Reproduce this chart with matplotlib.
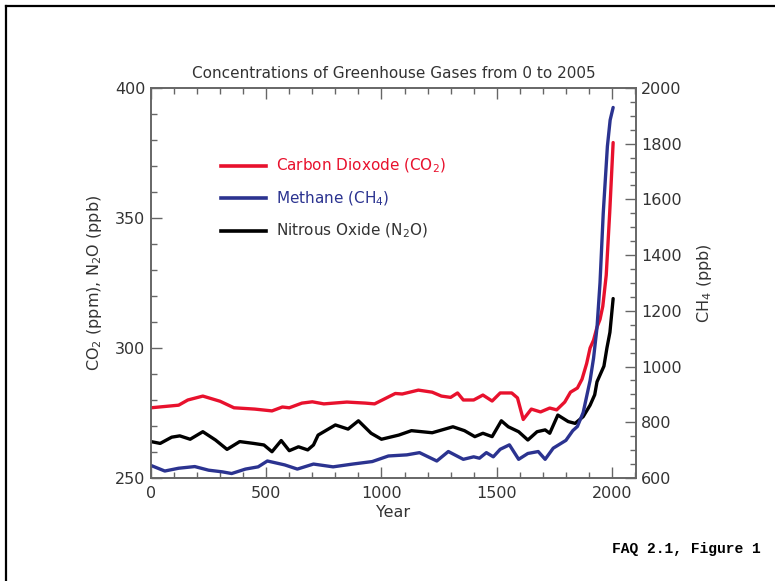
"""
Concentrations of greenhouse gases from 0 to 2005 (FAQ 2.1, Figure 1).
CO2 and N2O on the left axis, CH4 on the right axis.
"""

import matplotlib
matplotlib.use("Agg")
import matplotlib.pyplot as plt
from matplotlib.lines import Line2D
from matplotlib.ticker import MultipleLocator

# === Data ===
co2_years = [0, 60, 120, 160, 225, 300, 360, 450, 525, 570, 600, 655, 700, 750,
             850, 930, 970, 1060, 1090, 1160, 1220, 1260, 1300, 1330, 1355, 1400,
             1440, 1480, 1515, 1565, 1590, 1615, 1650, 1690, 1730, 1760, 1795,
             1820, 1850, 1870, 1890, 1905, 1920, 1935, 1948, 1960, 1975, 1990, 2005]
co2_ppm = [277, 277.5, 278, 280, 281.5, 279.5, 277, 276.5, 275.8, 277.3, 277, 278.8,
           279.3, 278.5, 279.2, 278.8, 278.5, 282.5, 282.3, 283.8, 283, 281.5, 281,
           282.7, 280, 280, 281.9, 279.6, 282.7, 282.7, 280.8, 272.5, 276.5, 275.4,
           276.9, 276.2, 279.2, 283, 284.6, 288, 294, 300, 303, 308, 311, 316, 328,
           352, 379]

ch4_years = [0, 60, 120, 190, 250, 310, 350, 410, 465, 505, 580, 635, 705, 790, 875,
             960, 1030, 1110, 1165, 1240, 1290, 1355, 1400, 1425, 1455, 1485, 1515,
             1555, 1595, 1635, 1680, 1710, 1745, 1800, 1830, 1850, 1875, 1905, 1920,
             1935, 1948, 1962, 1980, 1992, 2005]
ch4_ppb = [645, 625, 635, 641, 628, 622, 616, 632, 640, 661, 647, 632, 650, 640, 650,
           659, 679, 683, 691, 661, 695, 667, 676, 671, 691, 676, 703, 719, 667, 688,
           695, 667, 707, 735, 770, 785, 835, 950, 1030, 1140, 1300, 1550, 1790, 1885,
           1930]

n2o_years = [0, 40, 90, 125, 170, 225, 280, 330, 385, 445, 490, 525, 565, 600, 640,
             680, 705, 725, 800, 855, 900, 955, 1000, 1075, 1130, 1220, 1310, 1360,
             1405, 1440, 1480, 1520, 1550, 1595, 1635, 1675, 1710, 1730, 1765, 1810,
             1840, 1875, 1905, 1925, 1935, 1950, 1965, 1978, 1991, 2005]
n2o_ppb = [264, 263.3, 265.7, 266.2, 264.9, 267.8, 264.6, 261, 264, 263.3, 262.7,
           260.1, 264.4, 260.5, 262, 260.8, 262.7, 266.5, 270.4, 268.8, 272, 267.2,
           264.9, 266.5, 268.2, 267.4, 269.7, 268.2, 265.9, 267.2, 265.9, 272, 269.7,
           267.8, 264.6, 267.8, 268.5, 267.2, 274.2, 271.7, 271, 273.6, 278, 282, 287,
           290, 293, 300, 306, 319]

x_ticks = [0, 500, 1000, 1500, 2000]
left_ticks = [250, 300, 350, 400]
right_ticks = [600, 800, 1000, 1200, 1400, 1600, 1800, 2000]

RED = "#E8112D"
BLUE = "#2B3390"
BLACK = "#000000"
TEXT = "#333333"
AXIS = "#666666"

plt.rcParams["font.family"] = ["DejaVu Sans"]
plt.rcParams["font.size"] = 11


def style_axis(ax):
    for side in ax.spines.values():
        side.set_color(AXIS)
        side.set_linewidth(1.2)
    ax.tick_params(which="both", direction="in", colors=AXIS, labelcolor=TEXT,
                   labelsize=11.5)
    ax.tick_params(which="major", length=8, width=1)
    ax.tick_params(which="minor", length=4, width=1)


def main():
    fig = plt.figure(figsize=(7.75, 5.81), dpi=100)
    ax = fig.add_axes([0.1948, 0.1773, 0.6258, 0.6713])
    ax2 = ax.twinx()

    lw = 2.4
    ax.plot(co2_years, co2_ppm, color=RED, lw=lw, solid_joinstyle="round",
            solid_capstyle="round", zorder=3)
    ax.plot(n2o_years, n2o_ppb, color=BLACK, lw=lw, solid_joinstyle="round",
            solid_capstyle="round", zorder=2)
    ax2.plot(ch4_years, ch4_ppb, color=BLUE, lw=lw, solid_joinstyle="round",
             solid_capstyle="round")

    ax.set_xlim(0, 2104)
    ax.set_ylim(250, 400)
    ax2.set_ylim(600, 2000)

    ax.set_xticks(x_ticks)
    ax.xaxis.set_minor_locator(MultipleLocator(100))
    ax.set_yticks(left_ticks)
    ax.yaxis.set_minor_locator(MultipleLocator(10))
    ax2.set_yticks(right_ticks)
    ax2.yaxis.set_minor_locator(MultipleLocator(50))

    style_axis(ax)
    style_axis(ax2)
    ax.tick_params(which="both", top=True)
    ax.tick_params(axis="x", pad=6)
    ax.tick_params(axis="y", pad=4)

    ax.set_title("Concentrations of Greenhouse Gases from 0 to 2005",
                 fontsize=11, color=TEXT, pad=7)
    ax.set_xlabel("Year", color=TEXT, fontsize=11.5, labelpad=3)
    ax.set_ylabel("CO$_2$ (ppm), N$_2$O (ppb)", color=TEXT, fontsize=11.5,
                  labelpad=8)
    ax2.set_ylabel("CH$_4$ (ppb)", color=TEXT, fontsize=11.5, labelpad=10)

    # legend drawn by hand to match the original layout
    legend_items = [
        ("Carbon Dioxode (CO$_2$)", RED, RED),
        ("Methane (CH$_4$)", BLUE, BLUE),
        ("Nitrous Oxide (N$_2$O)", BLACK, TEXT),
    ]
    for i, (label, lc, tc) in enumerate(legend_items):
        y = 0.80 - i * 0.083
        ax.plot([0.144, 0.237], [y, y], color=lc, lw=2.6, transform=ax.transAxes)
        ax.text(0.258, y, label, color=tc, fontsize=11, va="center",
                transform=ax.transAxes)

    # page border (top and left only)
    fig.add_artist(Line2D([0.0077, 1.0], [0.9905, 0.9905], color="black", lw=1.6))
    fig.add_artist(Line2D([0.0077, 0.0077], [0.0, 0.9905], color="black", lw=1.6))

    fig.text(0.981, 0.055, "FAQ 2.1, Figure 1", family="Liberation Mono",
             fontweight="bold", fontsize=10.5, ha="right", va="center")

    fig.savefig("out.png", dpi=100)
    plt.close(fig)


if __name__ == "__main__":
    main()
